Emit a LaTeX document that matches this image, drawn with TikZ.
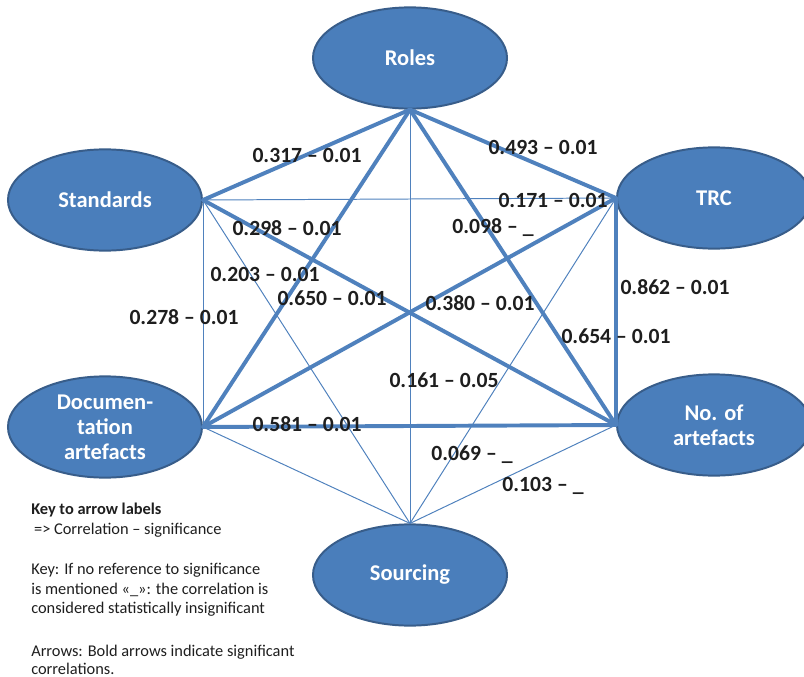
\documentclass[tikz,border=0pt]{standalone}
\usepackage{fontspec}
\setmainfont{Carlito}
\usepackage{tikz}
\usetikzlibrary{shapes}
\usetikzlibrary{positioning}
\definecolor{entblue}{RGB}{74,126,187}
\definecolor{entline}{RGB}{56,93,138}
\definecolor{edgeblue}{RGB}{79,129,189}
\definecolor{labgray}{RGB}{30,30,30}
\begin{document}
\begin{tikzpicture}[x=0.025cm,y=-0.025cm,line cap=round,line join=round,
  ent/.style={ellipse,draw=entline,fill=entblue,line width=1.4pt,minimum width=4.85cm,minimum height=2.53cm,inner sep=0pt,text=white,align=center,font=\fontsize{16}{17.8}\selectfont\bfseries},
  sig/.style={draw=edgeblue,line width=2.8pt},
  insig/.style={draw=edgeblue,line width=0.7pt},
  lab/.style={text=labgray,inner sep=0pt,font=\fontsize{15.4}{18}\selectfont\bfseries},
  keytxt/.style={text=labgray,inner sep=0pt,anchor=north west,align=left,font=\fontsize{11.65}{14}\selectfont}]
\clip (0,0) rectangle (804,677);
\node[ent] (roles) at (410,58) {Roles};
\node[ent] (std) at (105,200) {Standards};
\node[ent] (trc) at (714,198) {TRC};
\node[ent] (doc) at (105,427) {Documen-\\tation\\artefacts};
\node[ent] (noa) at (714,425) {No. of\\artefacts};
\node[ent] (src) at (410,575) {Sourcing};
% bold = significant
\draw[sig] (roles.south) -- (std.east);
\draw[sig] (roles.south) -- (trc.west);
\draw[sig] (roles.south) -- (doc.east);
\draw[sig] (roles.south) -- (noa.west);
\draw[sig] (std.east) -- (noa.west);
\draw[sig] (trc.west) -- (doc.east);
\draw[sig] (trc.west) -- (noa.west);
\draw[sig] (doc.east) -- (noa.west);
% thin = not significant
\draw[insig] (roles.south) -- (src.north);
\draw[insig] (std.east) -- (trc.west);
\draw[insig] (std.east) -- (doc.east);
\draw[insig] (std.east) -- (src.north);
\draw[insig] (trc.west) -- (src.north);
\draw[insig] (doc.east) -- (src.north);
\draw[insig] (noa.west) -- (src.north);
% labels
\node[lab] (l1) at (307,155) {0.317 – 0.01};
\node[lab] (l2) at (543,147) {0.493 – 0.01};
\node[lab] (l3) at (553,200) {0.171 – 0.01};
\node[lab] (l4) at (287,228) {0.298 – 0.01};
\node[lab] (l5) at (493,228) {0.098 – \_};
\node[lab] (l6) at (265,274) {0.203 – 0.01};
\node[lab] (l7) at (332,298) {0.650 – 0.01};
\node[lab] (l8) at (480,303) {0.380 – 0.01};
\node[lab] (l9) at (675,287) {0.862 – 0.01};
\node[lab] (l10) at (184,317) {0.278 – 0.01};
\node[lab] (l11) at (616,336) {0.654 – 0.01};
\node[lab] (l12) at (444,380) {0.161 – 0.05};
\node[lab] (l13) at (307,424) {0.581 – 0.01};
\node[lab] (l14) at (472,455) {0.069 – \_};
\node[lab] (l15) at (543,486) {0.103 – \_};
% key
\node[keytxt] (keyhead) at (31,503) {\textbf{Key to arrow labels}\\\hspace{2pt}=> Correlation – significance};
\node[keytxt] (keysig) at (31,563) {Key: If no reference to significance\\is mentioned «\_»: the correlation is\\considered statistically insignificant};
\node[keytxt,font=\fontsize{11.65}{12.8}\selectfont] (keybold) at (31,645) {Arrows: Bold arrows indicate significant\\correlations.};
\end{tikzpicture}
\end{document}
